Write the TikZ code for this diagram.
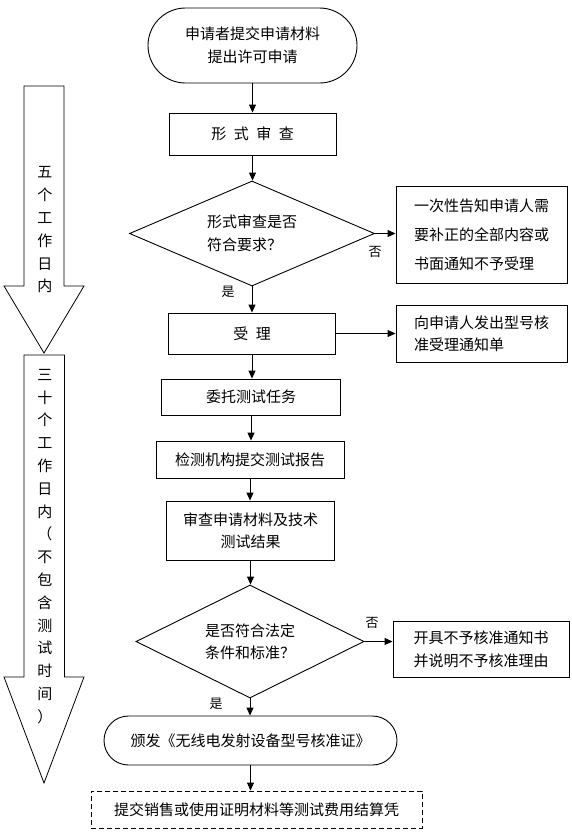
\documentclass[tikz,border=0pt]{standalone}
\usepackage{fontspec}
\setmainfont{Noto Sans CJK SC}
\usetikzlibrary{shapes.geometric,shapes.misc,arrows.meta}

\begin{document}
\begin{tikzpicture}[x=1pt,y=1pt,yscale=-1,xscale=1,
		line width=0.9pt,
		font=\fontsize{15pt}{23pt}\selectfont,
		box/.style={draw,rectangle,inner sep=0pt,align=center},
		term/.style={draw,rounded rectangle,inner sep=0pt,align=center},
		decide/.style={draw,diamond,inner sep=0pt,align=left},
		note/.style={draw,rectangle,inner sep=0pt,align=left},
		flow/.style={-{Triangle[length=8pt,width=7pt]}},
		lbl/.style={inner sep=0pt,font=\fontsize{13pt}{15pt}\selectfont},
		vtext/.style={inner sep=0pt,align=center,font=\fontsize{15pt}{22.8pt}\selectfont}]
		\useasboundingbox (0,0) rectangle (571,839);

		% time arrows on the left
		\draw [line width=0.8pt] (24,86) -- (64,86) -- (64,286) -- (84,286) -- (44,353) -- (4,286) -- (24,286) -- cycle ;
		\draw [line width=0.8pt] (24,355) -- (64.5,355) -- (64.5,677) -- (84,677) -- (44,783) -- (4,677) -- (24,677) -- cycle ;
		\draw (45,230) node [vtext] (five) {五\\个\\工\\作\\日\\内};
		\draw (45,546.5) node [vtext] (thirty) {三\\十\\个\\工\\作\\日\\内\\（\\不\\包\\含\\测\\试\\时\\间\\）};

		% main column
		\draw (252.5,45.5) node [term,minimum width=209pt,minimum height=75pt] (start) {申请者提交申请材料\\提出许可申请};
		\draw (252.5,134) node [box,minimum width=167pt,minimum height=42pt] (check) {形\enspace 式\enspace 审\enspace 查};
		\draw (252,233.5) node [decide,aspect=2.33,minimum width=245pt,minimum height=105pt] (dec1) {形式审查是否\\符合要求？};
		\draw (481.5,234.5) node [note,minimum width=171pt,minimum height=97pt,font=\fontsize{15pt}{29pt}\selectfont] (no1) {一次性告知申请人需\\要补正的全部内容或\\书面通知不予受理};
		\draw (252,333.5) node [box,minimum width=167.5pt,minimum height=41pt] (accept) {受\enspace 理};
		\draw (481.5,333.5) node [note,minimum width=171pt,minimum height=57pt,font=\fontsize{15pt}{22pt}\selectfont] (notice) {向申请人发出型号核\\准受理通知单};
		\draw (251,397) node [box,minimum width=178.5pt,minimum height=36pt] (entrust) {委托测试任务};
		\draw (250,459.5) node [box,minimum width=188pt,minimum height=37pt] (report) {检测机构提交测试报告};
		\draw (250.5,530.5) node [box,minimum width=167.5pt,minimum height=59pt,font=\fontsize{15pt}{22pt}\selectfont] (review) {审查申请材料及技术\\测试结果};
		\draw (250,641.5) node [decide,aspect=2,minimum width=228pt,minimum height=113pt,font=\fontsize{15pt}{22pt}\selectfont] (dec2) {是否符合法定\\条件和标准？};
		\draw (481,649) node [note,minimum width=176pt,minimum height=56pt] (no2) {开具不予核准通知书\\并说明不予核准理由};
		\draw (250.5,740.5) node [term,minimum width=293pt,minimum height=49pt] (issue) {颁发《无线电发射设备型号核准证》};
		\draw (256.5,809.5) node [box,dash pattern=on 5pt off 3pt,minimum width=331pt,minimum height=37pt] (submit) {提交销售或使用证明材料等测试费用结算凭};

		% connectors
		\draw [flow] (start.south) -- (start.south |- check.north) ;
		\draw [flow] (check.south) -- (check.south |- dec1.north) ;
		\draw [flow] (dec1.east) -- (dec1.east -| no1.west) ;
		\draw [flow] (dec1.south) -- (dec1.south |- accept.north) ;
		\draw [flow] (accept.east) -- (accept.east -| notice.west) ;
		\draw [flow] (accept.south) -- (accept.south |- entrust.north) ;
		\draw [flow] (entrust.south) -- (entrust.south |- report.north) ;
		\draw [flow] (report.south) -- (report.south |- review.north) ;
		\draw [flow] (review.south) -- (review.south |- dec2.north) ;
		\draw [flow] (dec2.east) -- (dec2.east -| no2.west) ;
		\draw [flow] (dec2.south) -- (dec2.south |- issue.north) ;
		\draw [flow] (issue.south) -- (issue.south |- submit.north) ;

		\draw (375,252) node [lbl] (n1) {否};
		\draw (228,292) node [lbl] (y1) {是};
		\draw (372,623) node [lbl] (n2) {否};
		\draw (216,704) node [lbl] (y2) {是};
	\end{tikzpicture}
\end{document}
